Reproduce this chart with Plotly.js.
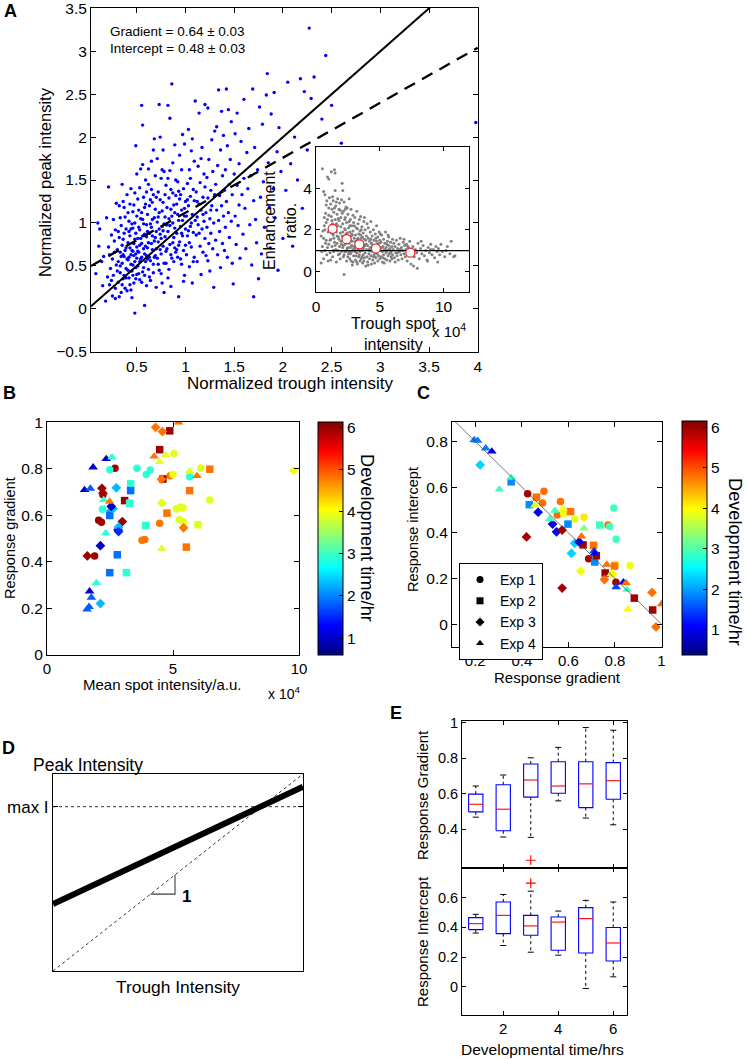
<!DOCTYPE html>
<html><head><meta charset="utf-8">
<script src="https://cdn.plot.ly/plotly-3.0.1.min.js"></script>
<style>html,body{margin:0;padding:0;background:#fff}#chart{width:747px;height:1059px}</style>
</head><body><div id="chart"></div>
<script>
// ---------- Panel A: normalized trough vs peak intensity ----------
const panelA_points = [
[0.08,0.41],[0.1,1.0],[0.12,0.93],[0.15,0.27],[0.16,0.61],[0.18,0.09],[0.19,1.06],[0.14,0.55],[0.2,0.37],[0.11,0.73],
[0.21,0.72],[0.22,0.28],[0.23,0.47],[0.24,0.86],[0.25,0.15],[0.25,0.58],[0.26,1.04],[0.26,0.39],[0.27,0.66],[0.28,0.24],[0.28,0.92],[0.29,0.51],[0.29,1.23],[0.22,0.63],[0.24,0.33],[0.27,0.79],[0.3,0.44],[0.21,1.42],[0.28,0.12],[0.3,0.69],
[0.31,0.55],[0.31,0.31],[0.32,0.83],[0.32,1.2],[0.33,0.42],[0.33,0.66],[0.34,0.19],[0.34,0.97],[0.35,0.53],[0.35,0.74],[0.36,1.25],[0.36,0.35],[0.37,0.61],[0.37,0.88],[0.38,0.24],[0.38,1.07],[0.39,0.47],[0.39,0.71],[0.4,0.58],[0.4,1.33],[0.31,0.9],[0.32,0.14],[0.33,1.06],[0.34,0.61],[0.35,0.28],[0.36,0.81],[0.37,0.39],[0.38,0.68],[0.39,0.93],[0.4,0.21],[0.35,1.45],[0.37,1.18],[0.33,0.5],[0.39,0.36],[0.36,0.63],
[0.41,0.77],[0.41,0.45],[0.42,1.02],[0.42,0.6],[0.43,0.28],[0.43,0.85],[0.44,1.4],[0.44,0.52],[0.45,0.68],[0.45,0.13],[0.46,0.94],[0.46,0.39],[0.47,1.21],[0.47,0.62],[0.48,0.81],[0.48,-0.05],[0.49,0.48],[0.49,1.9],[0.5,0.72],[0.5,1.08],[0.41,0.57],[0.42,0.36],[0.43,0.71],[0.44,0.93],[0.45,0.44],[0.46,1.13],[0.46,0.67],[0.47,0.3],[0.48,0.55],[0.48,1.35],[0.49,0.88],[0.5,0.4],[0.43,1.22],[0.44,0.63],[0.45,0.99],[0.47,0.76],[0.49,0.64],[0.5,1.57],[0.42,0.9],[0.46,0.51],[0.48,1.0],[0.41,1.12],[0.44,0.22],[0.49,0.35],[0.5,0.59],
[0.51,0.82],[0.51,0.5],[0.52,1.15],[0.52,0.66],[0.53,0.34],[0.53,0.92],[0.54,1.63],[0.54,0.58],[0.55,0.76],[0.55,2.37],[0.56,1.04],[0.56,0.43],[0.57,1.3],[0.57,0.7],[0.58,0.04],[0.58,0.87],[0.59,1.5],[0.59,0.55],[0.6,0.98],[0.6,0.27],[0.51,1.28],[0.52,0.41],[0.53,0.74],[0.54,1.05],[0.55,0.6],[0.56,0.85],[0.56,1.68],[0.57,0.48],[0.58,1.18],[0.59,0.73],[0.6,0.62],[0.52,0.95],[0.53,1.41],[0.55,0.31],[0.57,0.99],[0.58,0.64],[0.59,1.22],[0.6,1.36],[0.54,0.82],[0.56,2.14],[0.58,0.39],[0.51,0.67],[0.53,0.55],[0.55,1.12],[0.6,0.84],
[0.61,0.71],[0.61,1.1],[0.62,0.46],[0.62,1.45],[0.63,0.88],[0.63,0.6],[0.64,1.27],[0.64,0.33],[0.65,0.95],[0.65,1.72],[0.66,0.69],[0.66,1.04],[0.67,0.52],[0.67,1.33],[0.68,0.79],[0.68,1.98],[0.69,0.62],[0.69,1.16],[0.7,0.9],[0.7,0.25],[0.61,0.9],[0.62,0.77],[0.63,1.2],[0.64,0.56],[0.65,1.39],[0.66,0.85],[0.67,0.42],[0.68,1.06],[0.69,1.55],[0.7,0.7],[0.62,1.63],[0.64,0.99],[0.66,1.24],[0.68,0.6],[0.7,1.3],[0.63,0.37],[0.65,0.76],[0.67,1.85],[0.69,0.83],[0.61,0.58],
[0.71,1.01],[0.71,0.59],[0.72,1.36],[0.72,0.78],[0.73,0.45],[0.73,1.12],[0.74,2.0],[0.74,0.87],[0.75,0.64],[0.75,1.52],[0.76,0.96],[0.76,0.3],[0.77,1.24],[0.77,0.73],[0.78,1.6],[0.78,0.53],[0.79,1.07],[0.79,0.84],[0.8,1.44],[0.8,0.67],[0.71,1.75],[0.72,0.52],[0.73,0.93],[0.74,1.27],[0.75,0.41],[0.76,1.14],[0.77,0.91],[0.78,0.19],[0.79,1.33],[0.8,0.98],[0.72,1.07],[0.74,0.69],[0.76,1.62],[0.78,0.99],[0.8,0.53],[0.73,2.38],[0.77,1.85],[0.75,0.82],
[0.81,1.18],[0.81,0.7],[0.82,1.52],[0.82,0.9],[0.83,0.46],[0.83,1.29],[0.84,2.22],[0.84,0.97],[0.85,0.63],[0.85,1.39],[0.86,2.62],[0.86,1.08],[0.87,0.77],[0.87,1.7],[0.88,0.55],[0.88,1.21],[0.89,0.94],[0.89,1.91],[0.9,0.66],[0.9,1.32],[0.81,0.98],[0.82,0.36],[0.83,1.05],[0.84,0.75],[0.85,1.16],[0.86,0.59],[0.87,1.35],[0.88,0.83],[0.89,1.12],[0.9,1.5],[0.82,2.37],[0.85,0.26],[0.87,1.0],[0.89,0.71],[0.84,1.61],
[0.91,0.88],[0.91,1.22],[0.92,0.6],[0.92,1.48],[0.93,1.03],[0.93,0.14],[0.94,1.79],[0.94,0.78],[0.95,1.33],[0.95,0.96],[0.96,0.52],[0.96,1.15],[0.97,2.03],[0.97,0.85],[0.98,1.4],[0.98,0.68],[0.99,1.08],[0.99,0.39],[1.0,1.25],[1.0,0.93],[0.91,0.69],[0.92,1.1],[0.93,0.74],[0.94,1.28],[0.95,0.58],[0.96,1.62],[0.97,1.03],[0.98,0.32],[0.99,1.92],[1.0,0.74],[0.93,1.37],[0.96,0.88],[0.99,1.17],
[1.01,1.08],[1.01,0.63],[1.02,1.46],[1.02,0.85],[1.03,2.09],[1.03,1.2],[1.04,0.49],[1.04,1.62],[1.05,0.96],[1.05,1.31],[1.06,0.72],[1.06,1.84],[1.07,1.1],[1.07,0.3],[1.08,1.39],[1.08,0.89],[1.09,1.72],[1.09,0.6],[1.1,1.03],[1.1,2.42],[1.02,1.27],[1.04,0.77],[1.05,1.52],[1.06,1.0],[1.08,0.55],[1.09,1.26],[1.03,0.91],[1.07,1.98],
[1.11,0.86],[1.11,1.36],[1.12,1.07],[1.12,0.55],[1.13,1.66],[1.13,0.98],[1.14,2.28],[1.14,1.22],[1.15,0.73],[1.15,1.47],[1.16,1.15],[1.16,0.4],[1.17,1.88],[1.17,0.93],[1.18,1.3],[1.18,0.66],[1.19,1.57],[1.19,1.02],[1.2,0.82],[1.2,1.42],[1.12,1.25],[1.14,0.88],[1.16,1.75],[1.18,1.1],[1.2,2.38],
[1.21,1.12],[1.21,0.62],[1.22,1.53],[1.22,0.95],[1.23,2.34],[1.23,1.29],[1.24,0.76],[1.24,1.74],[1.25,1.05],[1.25,0.44],[1.26,1.38],[1.26,0.88],[1.27,1.97],[1.27,1.2],[1.28,0.7],[1.28,1.6],[1.29,1.0],[1.29,0.25],[1.3,1.33],[1.3,2.07],[1.23,0.56],[1.26,1.15],
[1.31,0.8],[1.31,1.45],[1.32,1.15],[1.32,2.12],[1.33,0.63],[1.33,1.67],[1.34,1.03],[1.34,2.55],[1.35,1.32],[1.35,0.9],[1.36,1.85],[1.36,0.48],[1.37,1.2],[1.37,2.3],[1.38,0.76],[1.38,1.55],[1.39,1.08],[1.39,2.02],[1.4,1.38],[1.4,0.68],
[1.41,1.62],[1.41,0.95],[1.42,2.56],[1.42,1.25],[1.43,0.6],[1.43,1.9],[1.44,1.12],[1.44,2.32],[1.45,1.45],[1.45,0.83],[1.46,1.74],[1.47,1.02],[1.47,2.18],[1.48,0.53],[1.48,1.33],[1.49,0.29],[1.5,1.57],
[1.51,1.08],[1.51,2.04],[1.52,0.75],[1.53,1.44],[1.53,2.28],[1.54,0.97],[1.55,1.69],[1.55,1.21],[1.56,0.59],[1.57,1.95],[1.58,1.33],[1.59,0.87],[1.6,2.44],[1.6,1.52],
[1.61,1.17],[1.62,0.7],[1.63,1.82],[1.64,1.4],[1.65,2.1],[1.66,0.98],[1.67,1.55],[1.68,0.51],[1.69,2.56],[1.7,1.26],[1.7,0.14],
[1.71,1.88],[1.72,1.04],[1.73,0.77],[1.74,1.62],[1.75,0.35],[1.76,2.35],[1.77,1.3],[1.78,0.64],[1.79,2.15],[1.8,1.48],
[1.81,0.95],[1.83,2.49],[1.84,2.74],[1.85,1.7],[1.86,1.18],[1.87,0.71],[1.88,2.27],[1.9,1.4],
[1.91,2.52],[1.92,1.06],[1.94,1.83],[1.95,0.45],[1.96,2.11],[1.98,1.6],[2.0,0.82],
[2.03,1.38],[2.05,2.64],[2.08,1.69],[2.1,0.73],[2.12,2.0],[2.15,1.5],[2.18,2.68],[2.2,1.17],[2.22,2.53],[2.25,1.85],[2.27,3.27],[2.29,2.45],
[2.32,2.7],[2.35,1.62],[2.4,2.21],[2.44,2.95],[2.5,2.37],[2.55,1.78],[2.6,1.93],[3.98,2.17]
];
const fitLineX = [0.03, 4.0];
const unitSlopeY = [0.03, 4.0];
const fitLineY = [0.4992, 3.04];
const fitLabels = ['Gradient = 0.64 \u00b1 0.03', 'Intercept = 0.48 \u00b1 0.03'];
const panelA_xticks = [0.5, 1, 1.5, 2, 2.5, 3, 3.5, 4];
const panelA_yticks = [-0.5, 0, 0.5, 1, 1.5, 2, 2.5, 3, 3.5];

// ---------- Panel A inset: trough spot intensity (x1e4) vs enhancement ratio ----------
const inset_points = [
[0.4,1.7],[0.5,4.95],[0.5,1.2],[0.6,3.85],[0.6,0.6],[0.65,2.2],[0.7,3.7],[0.7,1.0],[0.75,2.8],[0.8,1.5],[0.8,3.2],[0.85,0.8],[0.9,4.55],[0.9,2.5],[0.95,1.9],[1.0,4.45],[1.0,3.05],[1.0,1.3],[0.55,1.95],[0.45,0.95],[0.65,2.6],[0.75,1.35],[0.85,3.4],[0.95,0.5],[0.4,0.4],[0.7,2.0],[0.8,2.35],[0.9,1.15],[0.6,1.6],[1.0,2.7],
[1.05,3.55],[1.1,2.1],[1.1,0.9],[1.15,3.25],[1.15,1.55],[1.2,4.8],[1.2,2.65],[1.25,1.2],[1.25,3.0],[1.3,0.7],[1.3,2.3],[1.35,3.4],[1.35,1.75],[1.4,0.95],[1.4,2.85],[1.45,4.9],[1.45,1.4],[1.5,4.75],[1.5,3.9],[1.5,2.5],[1.55,1.05],[1.55,3.15],[1.6,1.9],[1.6,0.45],[1.65,2.75],[1.65,1.35],[1.7,3.5],[1.7,2.2],[1.75,0.8],[1.75,1.65],[1.8,3.0],[1.8,2.45],[1.85,1.2],[1.85,3.3],[1.9,1.85],[1.9,0.6],[1.95,2.6],[1.95,1.45],[2.0,3.45],[2.0,0.95],[1.1,1.5],[1.2,1.85],[1.3,3.6],[1.4,2.05],[1.5,1.25],[1.6,2.3],[1.7,1.0],[1.8,1.55],[1.9,2.95],[1.15,0.55],[1.25,2.45],[1.35,1.0],[1.45,3.05],[1.55,2.0],[1.65,1.7],[1.75,2.55],[1.85,0.85],[1.95,2.15],[1.4,1.6],[1.6,3.35],
[2.05,1.7],[2.05,4.25],[2.1,2.3],[2.1,1.15],[2.1,3.9],[2.15,0.7],[2.15,2.9],[2.2,1.5],[2.2,3.35],[2.25,2.05],[2.25,0.95],[2.3,2.6],[2.3,1.3],[2.35,3.1],[2.35,1.8],[2.4,0.5],[2.4,2.35],[2.45,1.1],[2.45,3.05],[2.5,1.6],[2.5,2.75],[2.55,0.85],[2.55,2.1],[2.6,1.35],[2.6,3.5],[2.65,1.9],[2.65,0.6],[2.7,2.5],[2.7,1.15],[2.75,1.7],[2.75,3.0],[2.8,0.95],[2.8,2.2],[2.85,1.45],[2.85,0.3],[2.9,1.95],[2.9,2.7],[2.95,1.2],[2.95,0.75],[3.0,1.6],[2.0,1.3],[2.1,1.9],[2.2,0.8],[2.3,2.0],[2.4,1.45],[2.5,0.7],[2.6,2.4],[2.7,0.85],[2.8,1.25],[2.9,1.05],[2.15,1.25],[2.25,2.5],[2.35,0.95],[2.45,1.85],[2.55,1.55],[2.65,2.2],[2.75,0.5],[2.85,1.75],[2.95,2.35],[2.05,2.8],[2.2,-0.15],[2.4,1.0],[2.6,0.95],[2.8,1.8],[3.0,2.2],[2.3,3.0],[2.5,1.15],[2.7,1.5],[2.9,0.45],[2.35,1.55],
[3.05,1.1],[3.05,2.6],[3.1,1.75],[3.1,0.55],[3.15,2.1],[3.15,1.3],[3.2,0.9],[3.2,2.9],[3.25,1.55],[3.25,0.35],[3.3,2.3],[3.3,1.05],[3.35,1.8],[3.35,0.7],[3.4,2.5],[3.4,1.35],[3.45,0.95],[3.45,1.95],[3.5,1.2],[3.5,2.65],[3.55,0.6],[3.55,1.6],[3.6,2.15],[3.6,1.0],[3.65,1.4],[3.65,0.4],[3.7,1.85],[3.7,0.8],[3.75,2.4],[3.75,1.2],[3.8,0.65],[3.8,1.55],[3.85,2.0],[3.85,0.9],[3.9,1.3],[3.9,0.25],[3.95,1.7],[3.95,1.05],[4.0,2.3],[4.0,0.7],[3.1,1.45],[3.2,0.45],[3.3,1.6],[3.4,0.8],[3.5,1.75],[3.6,0.7],[3.7,1.1],[3.8,2.6],[3.9,1.5],[3.15,0.75],[3.35,1.15],[3.55,2.0],[3.75,0.5],[3.95,1.3],[3.25,2.05],[3.45,0.5],[3.65,1.65],[3.85,1.25],[3.05,0.95],[3.6,1.25],
[4.05,1.25],[4.05,0.45],[4.1,1.6],[4.1,2.1],[4.15,0.85],[4.15,1.05],[4.2,1.45],[4.2,0.6],[4.25,1.9],[4.25,1.15],[4.3,0.75],[4.3,2.4],[4.35,1.35],[4.35,0.35],[4.4,1.7],[4.4,0.95],[4.45,1.2],[4.45,0.55],[4.5,2.0],[4.5,1.05],[4.55,0.8],[4.55,1.5],[4.6,1.25],[4.6,0.4],[4.65,1.8],[4.65,0.9],[4.7,1.1],[4.7,0.65],[4.75,1.45],[4.75,2.2],[4.8,0.85],[4.8,1.3],[4.85,0.5],[4.85,1.65],[4.9,1.0],[4.9,0.75],[4.95,1.35],[4.95,1.9],[5.0,0.6],[5.0,1.15],[4.2,1.0],[4.4,1.3],[4.6,0.7],[4.8,1.05],[5.0,1.5],[4.1,0.3],[4.3,1.55],[4.5,0.7],[4.7,1.6],[4.9,1.2],
[5.05,1.0],[5.1,1.4],[5.1,0.7],[5.15,1.75],[5.2,0.95],[5.2,0.45],[5.25,1.2],[5.3,1.55],[5.3,0.8],[5.35,1.05],[5.4,0.6],[5.4,1.35],[5.45,1.9],[5.5,0.9],[5.5,1.15],[5.55,0.55],[5.6,1.45],[5.6,1.0],[5.65,0.75],[5.7,1.25],[5.7,1.65],[5.75,0.85],[5.8,1.1],[5.8,0.5],[5.85,1.4],[5.9,0.95],[5.9,0.7],[5.95,1.2],[6.0,1.55],[6.0,0.8],[5.15,1.15],[5.35,0.4],[5.55,1.3],[5.75,1.05],[5.95,0.6],[5.25,0.65],[5.45,1.0],[5.65,1.75],[5.85,0.9],[5.05,1.8],
[6.05,1.05],[6.1,1.35],[6.15,0.65],[6.2,1.2],[6.25,0.9],[6.3,1.5],[6.35,0.75],[6.4,1.1],[6.45,0.55],[6.5,1.3],[6.55,0.95],[6.6,1.6],[6.65,0.8],[6.7,1.15],[6.75,0.6],[6.8,1.0],[6.85,1.4],[6.9,0.85],[6.95,1.25],[7.0,0.7],[7.05,1.05],[7.1,1.3],[7.15,0.5],[7.2,0.95],[7.25,1.15],[7.3,0.75],[7.35,1.45],[7.4,1.0],[7.45,0.35],[7.5,0.85],[6.2,0.45],[6.6,1.05],[6.9,1.55],[7.2,1.2],[6.4,0.9],
[7.6,1.2],[7.7,0.7],[7.8,1.05],[7.9,0.9],[8.0,1.35],[8.1,0.6],[8.2,1.1],[8.3,0.85],[8.4,1.25],[8.5,0.75],[8.6,1.0],[8.7,0.55],[8.8,1.15],[8.9,0.9],[9.0,1.3],[9.1,0.8],[9.2,1.05],[9.3,0.65],[9.4,1.2],[9.5,0.95],[7.65,0.25],[8.25,1.45],[8.75,0.5],[9.0,1.05],[7.95,0.15],
[9.6,1.1],[9.7,0.8],[9.8,1.3],[9.9,0.95],[10.1,0.7],[10.3,1.2],[10.5,0.85],[10.6,1.45],[10.8,0.7],[10.9,0.75],[10.2,1.0],[9.55,0.45]
];
const insetBinX = [1.3, 2.4, 3.4, 4.7, 7.4];
const insetBinMean = [2.05, 1.55, 1.3, 1.1, 0.9];
const insetUnityX = [0, 12];
const insetUnityY = [1, 1];

// ---------- Panels B and C: [x, y, development time] per experiment ----------
const expNames = ['Exp 1', 'Exp 2', 'Exp 3', 'Exp 4'];
const expSymbols = ['circle', 'square', 'diamond', 'triangle-up'];
const panelB_exp1 = [[2.70,0.803,5.95],[2.49,0.797,2.9],[3.57,0.803,2.9],[3.94,0.776,2.9],[4.10,0.796,2.9],[2.22,0.689,5.95],[2.05,0.579,5.95],[2.16,0.571,5.95],[1.89,0.426,5.95],[2.20,0.627,2.9],[2.49,0.614,2.3],[3.77,0.493,4.8],[3.88,0.497,4.8],[4.47,0.567,4.8],[4.89,0.771,4.8],[5.00,0.776,4.0],[5.04,0.867,3.9],[5.66,0.767,2.9],[6.10,0.804,3.9],[6.46,0.667,3.9],[5.13,0.629,3.9],[5.29,0.636,3.9],[5.40,0.633,3.9],[5.26,0.583,3.9],[5.42,0.571,3.9],[4.58,0.756,4.8]];
const panelB_exp2 = [[4.87,0.964,5.95],[4.47,0.883,5.95],[4.60,0.757,5.95],[3.08,0.664,5.95],[3.32,0.736,2.9],[3.32,0.707,1.9],[3.28,0.653,2.9],[2.49,0.600,1.9],[2.79,0.431,1.9],[2.49,0.354,1.9],[3.15,0.354,2.9],[3.92,0.557,2.9],[6.46,0.799,4.8],[5.66,0.707,4.8],[4.76,0.610,4.8],[5.53,0.464,4.8],[5.99,0.560,3.9]];
const panelB_exp3 = [[4.31,0.979,4.8],[4.58,0.961,4.8],[4.54,0.756,4.8],[4.56,0.654,3.9],[5.42,0.547,4.8],[9.79,0.793,4.0],[2.18,0.717,5.95],[2.22,0.696,5.95],[1.60,0.426,5.95],[2.99,0.574,5.95],[2.12,0.470,1.0],[2.75,0.719,2.3],[2.62,0.629,2.3],[2.82,0.539,1.0],[2.84,0.550,2.3],[2.84,0.531,1.5],[2.12,0.221,2.3],[2.55,0.639,1.0]];
const panelB_exp4 = [[1.49,0.710,1.0],[1.72,0.716,1.8],[1.83,0.807,1.0],[2.35,0.843,1.0],[2.58,0.850,2.9],[2.25,0.667,3.0],[2.33,0.524,2.9],[1.96,0.310,2.9],[1.69,0.274,1.0],[1.76,0.247,1.8],[1.67,0.207,1.8],[1.59,0.196,1.8],[2.49,0.660,4.8],[4.25,0.854,4.8],[4.47,0.831,3.9],[4.71,0.860,3.9],[4.55,0.457,3.9],[5.22,1.000,4.8],[5.66,0.790,3.9],[5.95,0.770,4.8]];

const panelC_exp1 = [[0.425,0.571,5.95],[0.495,0.582,4.8],[0.489,0.530,4.8],[0.566,0.537,4.8],[0.552,0.478,4.8],[0.667,0.468,4.1],[0.795,0.508,2.9],[0.805,0.372,2.9],[0.770,0.434,4.8],[0.777,0.427,2.9],[0.687,0.286,5.95],[0.804,0.183,5.95],[0.865,0.257,3.9],[0.802,0.261,4.1],[0.580,0.483,3.9],[0.627,0.460,3.9]];
const panelC_exp2 = [[0.354,0.623,1.9],[0.432,0.523,1.9],[0.463,0.556,4.8],[0.609,0.493,4.8],[0.598,0.438,1.9],[0.663,0.347,5.95],[0.708,0.345,4.8],[0.734,0.434,2.9],[0.758,0.224,5.95],[0.798,0.254,4.8],[0.883,0.114,5.95],[0.962,0.062,5.95],[0.713,0.272,1.9],[0.720,0.300,5.95]];
const panelC_exp3 = [[0.221,0.697,2.3],[0.420,0.382,5.95],[0.470,0.490,1.0],[0.532,0.438,1.0],[0.549,0.404,1.0],[0.573,0.412,5.95],[0.573,0.158,5.95],[0.627,0.354,2.3],[0.646,0.360,1.0],[0.613,0.310,2.3],[0.653,0.232,3.9],[0.755,0.195,4.8],[0.959,0.139,4.8],[0.976,-0.012,4.8],[0.790,0.220,4.0]];
const panelC_exp4 = [[0.195,0.806,1.8],[0.210,0.803,1.8],[0.245,0.770,1.8],[0.271,0.756,1.0],[0.304,0.590,2.9],[0.354,0.641,2.9],[0.456,0.520,3.8],[0.542,0.497,2.9],[0.577,0.505,3.9],[0.520,0.460,2.9],[0.667,0.419,3.3],[0.656,0.384,4.8],[0.710,0.320,1.5],[0.765,0.261,4.8],[0.784,0.220,3.9],[0.805,0.162,1.5],[0.836,0.183,1.0],[0.848,0.180,4.8],[0.852,0.151,2.9],[0.855,0.065,4.0],[1.000,0.088,4.8],[0.713,0.310,1.0]];
const guideC_x = [0.1, 1.0];
const guideC_y = [0.9, 0.0];
const colorbarTicks = [1, 2, 3, 4, 5, 6];

// ---------- Panel D: schematic ----------
const schematicTrough = [0, 1];
const schematicPeak = [0.34, 0.935];
const unityD = [0, 1];
const maxI = 0.834;
const slopeMarkX = [0.39, 0.488, 0.488];
const slopeMarkY = [0.39, 0.39, 0.488];

// ---------- Panel E: box statistics by developmental time ----------
const devTimes = [1, 2, 3, 4, 5, 6];
const gradLower = [0.467, 0.355, 0.353, 0.559, 0.462, 0.424];
const gradQ1 = [0.497, 0.390, 0.580, 0.602, 0.521, 0.568];
const gradMedian = [0.540, 0.512, 0.677, 0.643, 0.655, 0.673];
const gradQ3 = [0.597, 0.650, 0.767, 0.780, 0.780, 0.775];
const gradUpper = [0.643, 0.705, 0.802, 0.861, 0.973, 0.958];
const gradOutlierT = [3];
const gradOutlierV = [0.224];
const intLower = [0.362, 0.278, 0.233, 0.213, -0.011, 0.067];
const intQ1 = [0.385, 0.358, 0.347, 0.246, 0.228, 0.174];
const intMedian = [0.425, 0.481, 0.410, 0.436, 0.459, 0.295];
const intQ3 = [0.466, 0.571, 0.481, 0.470, 0.533, 0.399];
const intUpper = [0.488, 0.622, 0.644, 0.510, 0.582, 0.571];
const intOutlierT = [3];
const intOutlierV = [0.698];

// ================= drawing =================
const W = 747, H = 1059;
const FONT = 'Liberation Sans, Arial, Helvetica, sans-serif';
const fx = px => px / W;
const fy = py => 1 - py / H;
const JET = [[0,'rgb(0,0,128)'],[0.125,'rgb(0,0,255)'],[0.375,'rgb(0,255,255)'],[0.625,'rgb(255,255,0)'],[0.875,'rgb(255,0,0)'],[1,'rgb(128,0,0)']];

const traces = [];
// A
traces.push({type:'scatter', mode:'markers', x:panelA_points.map(p=>p[0]), y:panelA_points.map(p=>p[1]), xaxis:'x', yaxis:'y', marker:{size:3.4, color:'rgb(0,0,255)'}, showlegend:false, hoverinfo:'skip'});
traces.push({type:'scatter', mode:'lines', x:fitLineX, y:unitSlopeY, xaxis:'x', yaxis:'y', line:{color:'black', width:2}, showlegend:false});
traces.push({type:'scatter', mode:'lines', x:fitLineX, y:fitLineY, xaxis:'x', yaxis:'y', line:{color:'black', width:2.3, dash:'12px,8px'}, showlegend:false});
// inset
traces.push({type:'scatter', mode:'markers', x:inset_points.map(p=>p[0]), y:inset_points.map(p=>p[1]), xaxis:'x2', yaxis:'y2', marker:{size:3, color:'rgb(128,128,128)'}, showlegend:false});
traces.push({type:'scatter', mode:'lines', x:insetUnityX, y:insetUnityY, xaxis:'x2', yaxis:'y2', line:{color:'black', width:1.3}, showlegend:false});
traces.push({type:'scatter', mode:'markers', x:insetBinX, y:insetBinMean, xaxis:'x2', yaxis:'y2', marker:{size:9, color:'white', line:{color:'rgb(225,40,40)', width:1.2}}, showlegend:false});

// B and C
const bSets = [panelB_exp1, panelB_exp2, panelB_exp3, panelB_exp4];
const cSets = [panelC_exp1, panelC_exp2, panelC_exp3, panelC_exp4];
bSets.forEach((s,i)=>{
  traces.push({type:'scatter', mode:'markers', x:s.map(p=>p[0]), y:s.map(p=>p[1]), xaxis:'x3', yaxis:'y3',
    marker:{symbol:expSymbols[i], size: i===3?8.5:7.5, color:s.map(p=>p[2]), coloraxis:'coloraxis', line:{width:0}}, showlegend:false});
});
cSets.forEach((s,i)=>{
  traces.push({type:'scatter', mode:'markers', x:s.map(p=>p[0]), y:s.map(p=>p[1]), xaxis:'x4', yaxis:'y4',
    marker:{symbol:expSymbols[i], size: i===3?8.5:7.5, color:s.map(p=>p[2]), coloraxis:'coloraxis2', line:{width:0}}, showlegend:false});
});
traces.push({type:'scatter', mode:'lines', x:guideC_x, y:guideC_y, xaxis:'x4', yaxis:'y4', line:{color:'rgb(60,60,60)', width:0.7}, showlegend:false});
expNames.forEach((n,i)=>{
  traces.push({type:'scatter', mode:'markers', name:n, x:[null], y:[null], xaxis:'x4', yaxis:'y4', marker:{symbol:expSymbols[i], size:7, color:'black'}, showlegend:true});
});

// D
traces.push({type:'scatter', mode:'lines', x:unityD, y:unityD, xaxis:'x5', yaxis:'y5', line:{color:'black', width:0.8, dash:'dot'}, showlegend:false});
traces.push({type:'scatter', mode:'lines', x:unityD, y:[maxI, maxI], xaxis:'x5', yaxis:'y5', line:{color:'black', width:0.8, dash:'dot'}, showlegend:false});
traces.push({type:'scatter', mode:'lines', x:schematicTrough, y:schematicPeak, xaxis:'x5', yaxis:'y5', line:{color:'black', width:6}, showlegend:false});
traces.push({type:'scatter', mode:'lines', x:slopeMarkX, y:slopeMarkY, xaxis:'x5', yaxis:'y5', line:{color:'rgb(60,60,60)', width:1.1}, showlegend:false});

// E
function boxTraces(xa, ya, lo, q1, med, q3, hi, oT, oV){
  const hw = 0.26, cw = 0.11;
  const bx=[],by=[],wx=[],wy=[],cx=[],cy=[],mx=[],my=[];
  devTimes.forEach((t,i)=>{
    bx.push(t-hw,t+hw,t+hw,t-hw,t-hw,null); by.push(q1[i],q1[i],q3[i],q3[i],q1[i],null);
    wx.push(t,t,null,t,t,null); wy.push(q3[i],hi[i],null,q1[i],lo[i],null);
    cx.push(t-cw,t+cw,null,t-cw,t+cw,null); cy.push(hi[i],hi[i],null,lo[i],lo[i],null);
    mx.push(t-hw,t+hw,null); my.push(med[i],med[i],null);
  });
  const base = {type:'scatter', mode:'lines', xaxis:xa, yaxis:ya, showlegend:false, connectgaps:false};
  return [
    Object.assign({}, base, {x:wx, y:wy, line:{color:'black', width:1, dash:'dot'}}),
    Object.assign({}, base, {x:cx, y:cy, line:{color:'black', width:1}}),
    Object.assign({}, base, {x:bx, y:by, line:{color:'rgb(0,0,255)', width:1.1}}),
    Object.assign({}, base, {x:mx, y:my, line:{color:'rgb(255,0,0)', width:1.1}}),
    {type:'scatter', mode:'markers', x:oT, y:oV, xaxis:xa, yaxis:ya, showlegend:false, marker:{symbol:'cross-thin', size:7, line:{color:'rgb(255,0,0)', width:1.1}}}
  ];
}
traces.push(...boxTraces('x6','y6', gradLower, gradQ1, gradMedian, gradQ3, gradUpper, gradOutlierT, gradOutlierV));
traces.push(...boxTraces('x7','y7', intLower, intQ1, intMedian, intQ3, intUpper, intOutlierT, intOutlierV));

// axes
function ax(extra, fs){
  return Object.assign({showline:true, linecolor:'black', linewidth:1, mirror:'allticks', ticks:'inside', ticklen:5, tickcolor:'black', tickwidth:1,
    showgrid:false, zeroline:false, fixedrange:true, ticklabeloverflow:'allow', tickfont:{family:FONT, size:fs||15, color:'black'}}, extra);
}
function cbar(pxLeft, pxTop, pxBottom){
  return {x:fx(pxLeft), xanchor:'left', y:fy(pxTop), yanchor:'top', len:pxBottom-pxTop, lenmode:'pixels', thickness:25, thicknessmode:'pixels',
    xpad:0, ypad:0, outlinecolor:'black', outlinewidth:1, ticks:'inside', ticklen:4, tickcolor:'black', tickvals:colorbarTicks,
    tickfont:{family:FONT, size:15.5, color:'black'}};
}
function ann(text, px, py, size, opts){
  return Object.assign({text:text, x:fx(px), y:fy(py), xref:'paper', yref:'paper', showarrow:false, xanchor:'center', yanchor:'middle',
    font:{family:FONT, size:size, color:'black'}}, opts||{});
}

const layout = {
  width:W, height:H, margin:{l:0,r:0,t:0,b:0}, paper_bgcolor:'white', plot_bgcolor:'white',
  font:{family:FONT, color:'black'}, hovermode:false,
  xaxis: ax({domain:[fx(91),fx(478)], range:[0.03,4.003], tickvals:panelA_xticks, anchor:'y'}, 15.5),
  yaxis: ax({domain:[fy(352),fy(8)], range:[-0.503,3.504], tickvals:panelA_yticks, anchor:'x'}, 15.5),
  xaxis2: ax({domain:[fx(316),fx(469)], range:[0,12], tickvals:[0,5,10], anchor:'y2', ticklen:4}, 15.5),
  yaxis2: ax({domain:[fy(292),fy(147)], range:[-1,6], tickvals:[0,2,4], anchor:'x2', ticklen:4}, 15.5),
  xaxis3: ax({domain:[fx(47),fx(299)], range:[0,10], tickvals:[0,5,10], anchor:'y3'}, 15),
  yaxis3: ax({domain:[fy(655),fy(422)], range:[0,1.002], tickvals:[0,0.2,0.4,0.6,0.8,1], anchor:'x3'}, 15.5),
  xaxis4: ax({domain:[fx(452),fx(662)], range:[0.1,1.002], tickvals:[0.2,0.4,0.6,0.8,1], anchor:'y4'}, 15),
  yaxis4: ax({domain:[fy(647),fy(422)], range:[-0.1,0.885], tickvals:[0,0.2,0.4,0.6,0.8], anchor:'x4'}, 15.5),
  xaxis5: ax({domain:[fx(53),fx(303)], range:[0,1], ticks:'', showticklabels:false, anchor:'y5'}),
  yaxis5: ax({domain:[fy(971),fy(774)], range:[0,1], tickvals:[maxI], ticktext:['max I'], anchor:'x5'}, 17),
  xaxis6: ax({domain:[fx(462),fx(627)], range:[0.5,6.5], tickvals:[2,4,6], showticklabels:false, anchor:'y6', ticklen:4}),
  yaxis6: ax({domain:[fy(868),fy(721)], range:[0.18,1.01], tickvals:[0.4,0.6,0.8,1], anchor:'x6', ticklen:4}, 14.5),
  xaxis7: ax({domain:[fx(462),fx(627)], range:[0.5,6.5], tickvals:[2,4,6], anchor:'y7', ticklen:4}, 15),
  yaxis7: ax({domain:[fy(1015),fy(868)], range:[-0.19,0.8], tickvals:[0,0.2,0.4,0.6], anchor:'x7', ticklen:4}, 14.5),
  coloraxis: {colorscale:JET, cmin:0.6, cmax:6.12, colorbar:cbar(318,422,655)},
  coloraxis2: {colorscale:JET, cmin:0.38, cmax:6.15, colorbar:cbar(682,421,655)},
  showlegend:true,
  legend:{x:fx(459), y:fy(563), xanchor:'left', yanchor:'top', bgcolor:'white', bordercolor:'black', borderwidth:1,
    font:{family:FONT, size:14, color:'black'}, tracegroupgap:0, itemwidth:30},
  annotations:[
    ann('<b>A</b>', 10, 11, 18),
    ann('<b>B</b>', 9, 393, 18),
    ann('<b>C</b>', 424, 393, 18),
    ann('<b>D</b>', 8, 748, 18),
    ann('<b>E</b>', 396, 713, 18),
    ann(fitLabels[0], 108, 31, 13.5, {xanchor:'left'}),
    ann(fitLabels[1], 108, 48, 13.5, {xanchor:'left'}),
    ann('Normalized peak intensity', 45, 182, 16.5, {textangle:-90}),
    ann('Normalized trough intensity', 290, 384, 17),
    ann('Enhancement<br>ratio.', 280, 221, 16, {textangle:-90}),
    ann('Trough spot<br>intensity', 393, 334, 16),
    ann('x 10<sup>4</sup>', 449, 331, 15),
    ann('Response gradient', 10, 538, 14.5, {textangle:-90}),
    ann('Mean spot intensity/a.u.', 162, 684, 15),
    ann('x 10<sup>4</sup>', 284, 693, 14),
    ann('Development time/hr', 367, 538, 18.2, {textangle:90}),
    ann('Response intercept', 413, 530, 14.5, {textangle:-90}),
    ann('Response gradient', 557, 677, 15),
    ann('Development time/hr', 735, 562, 18.2, {textangle:90}),
    ann('Peak Intensity', 88, 765, 17.5),
    ann('Trough Intensity', 178, 987, 17.4),
    {text:'<b>1</b>', x:0.535, y:0.38, xref:'x5', yref:'y5', showarrow:false, font:{family:FONT, size:17, color:'black'}},
    ann('Response Gradient', 422, 795, 15, {textangle:-90}),
    ann('Response Intercept', 422, 942, 15, {textangle:-90}),
    ann('Developmental time/hrs', 542, 1049, 15.5)
  ]
};

Plotly.newPlot('chart', traces, layout, {staticPlot:true, displayModeBar:false});
</script></body></html>
